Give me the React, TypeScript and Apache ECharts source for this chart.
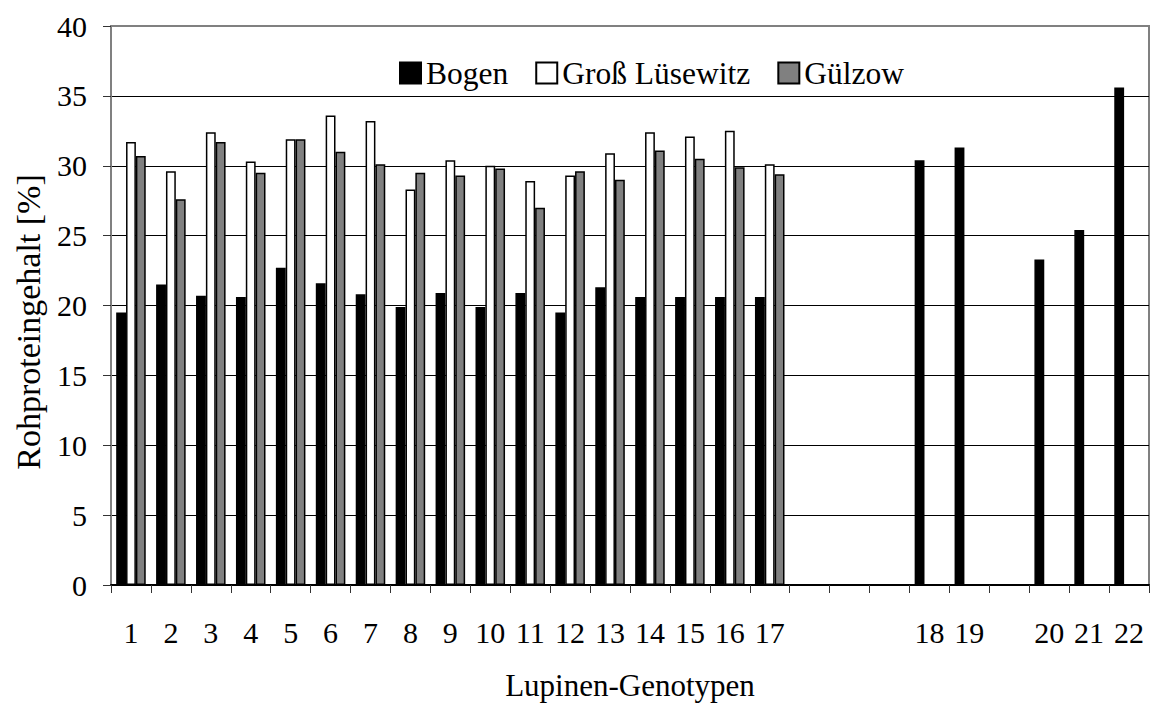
import React, { useEffect, useRef } from "react";
import * as echarts from "echarts";

const categories = ["1", "2", "3", "4", "5", "6", "7", "8", "9", "10", "11", "12", "13", "14", "15", "16", "17", " ", "  ", "   ", "18", "19", "    ", "20", "21", "22"];
const bogen = [19.5, 21.5, 20.7, 20.6, 22.7, 21.6, 20.8, 19.9, 20.9, 19.9, 20.9, 19.5, 21.3, 20.6, 20.6, 20.6, 20.6, null, null, null, 30.4, 31.3, null, 23.3, 25.4, 35.6];
const grossLuesewitz = [31.7, 29.6, 32.4, 30.3, 31.9, 33.6, 33.2, 28.3, 30.4, 30.0, 28.9, 29.3, 30.9, 32.4, 32.1, 32.5, 30.1, null, null, null, null, null, null, null, null, null];
const guelzow = [30.7, 27.6, 31.7, 29.5, 31.9, 31.0, 30.1, 29.5, 29.3, 29.8, 27.0, 29.6, 29.0, 31.1, 30.5, 29.9, 29.4, null, null, null, null, null, null, null, null, null];
const seriesNames = ["Bogen", "Groß Lüsewitz", "Gülzow"];
const yTitle = "Rohproteingehalt [%]";
const xTitle = "Lupinen-Genotypen";

const FONT = "Liberation Serif";

export default function App() {
  const ref = useRef<HTMLDivElement>(null);
  useEffect(() => {
    if (!ref.current) return;
    const chart = echarts.init(ref.current, null, { renderer: "svg" });
    const barStyle = (color: string) => ({ color, borderColor: "#000", borderWidth: 1.5 });
    chart.setOption({
      animation: false,
      backgroundColor: "#fff",
      textStyle: { fontFamily: FONT, color: "#000" },
      grid: { left: 111, right: 1, top: 26, bottom: 113, containLabel: false, show: true, borderColor: "#808080", borderWidth: 2, backgroundColor: "transparent" },
      legend: {
        left: 394,
        top: 52,
        itemWidth: 21,
        itemHeight: 21,
        itemGap: 27,
        icon: "rect",
        textStyle: { fontSize: 31.5, fontFamily: FONT, color: "#000" },
        data: seriesNames,
      },
      xAxis: {
        type: "category",
        data: categories,
        name: xTitle,
        nameLocation: "middle",
        nameGap: 85,
        nameTextStyle: { fontSize: 31, fontFamily: FONT, color: "#000" },
        axisLine: { lineStyle: { color: "#000", width: 2 } },
        axisTick: { show: true, interval: 0, length: 8, lineStyle: { color: "#333", width: 1 } },
        axisLabel: { interval: 0, fontSize: 30, fontFamily: FONT, color: "#000", margin: 32 },
        splitLine: { show: false },
      },
      yAxis: {
        type: "value",
        min: 0,
        max: 40,
        interval: 5,
        axisLine: { show: true, lineStyle: { color: "#808080", width: 2 } },
        axisTick: { show: true, length: 8, lineStyle: { color: "#333", width: 1 } },
        axisLabel: { fontSize: 30, fontFamily: FONT, color: "#000", margin: 24 },
        splitLine: { show: true, lineStyle: { color: ["#000", "#000", "#000", "#000", "#000", "#000", "#000", "#000", "#808080"], width: 1 } },
      },
      graphic: [
        {
          type: "text",
          x: 28,
          y: 322,
          rotation: Math.PI / 2,
          style: { text: yTitle, fontSize: 34, fontFamily: FONT, fill: "#000", align: "center", verticalAlign: "middle" },
        },
      ],
      series: [
        { name: seriesNames[0], type: "bar", data: bogen, barGap: "0%", barCategoryGap: "26%", itemStyle: barStyle("#000") },
        { name: seriesNames[1], type: "bar", data: grossLuesewitz, barGap: "0%", barCategoryGap: "26%", itemStyle: barStyle("#fff") },
        { name: seriesNames[2], type: "bar", data: guelzow, barGap: "0%", barCategoryGap: "26%", itemStyle: barStyle("#808080") },
      ],
    });
    return () => chart.dispose();
  }, []);
  return <div ref={ref} style={{ width: 1150, height: 706, position: "absolute", left: 0, top: 0 }} />;
}
